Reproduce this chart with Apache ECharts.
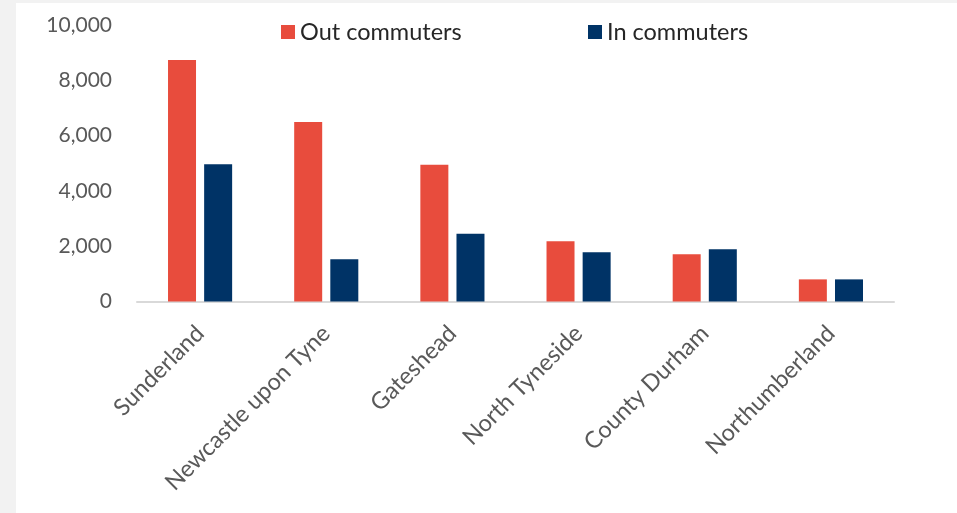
<!DOCTYPE html>
<html>
<head>
<meta charset="utf-8">
<script src="https://cdn.jsdelivr.net/npm/echarts@6/dist/echarts.min.js"></script>
<style>
  html, body { margin: 0; padding: 0; background: #f2f2f2; width: 957px; height: 513px; overflow: hidden; }
  #chart { position: absolute; left: 16px; top: 3px; width: 941px; height: 510px; background: #ffffff; }
</style>
</head>
<body>
<div id="chart"></div>
<script>
// Commuter flows by local authority
const categories = ['Sunderland', 'Newcastle upon Tyne', 'Gateshead', 'North Tyneside', 'County Durham', 'Northumberland'];
const outCommuters = [8730, 6490, 4950, 2180, 1710, 800];
const inCommuters = [4960, 1530, 2450, 1780, 1890, 800];
const yTicks = [0, 2000, 4000, 6000, 8000, 10000];

const FONT = 'Lato, "Open Sans", sans-serif';
const RED = '#E84C3D';
const NAVY = '#003366';

const chart = echarts.init(document.getElementById('chart'));

const legendBase = {
  top: 17,
  padding: 0,
  itemWidth: 14, itemHeight: 14,
  icon: 'rect',
  textStyle: { fontFamily: FONT, fontSize: 23.5, color: '#262626' }
};

chart.setOption({
  backgroundColor: '#ffffff',
  animation: false,
  textStyle: { fontFamily: FONT },
  legend: [
    Object.assign({ data: ['Out commuters'], left: 265 }, legendBase),
    Object.assign({ data: ['In commuters'], left: 572 }, legendBase)
  ],
  grid: { left: 121, right: 63, top: 22, bottom: 211.5, containLabel: false },
  xAxis: {
    type: 'category',
    data: categories,
    axisLine: { lineStyle: { color: '#d9d9d9', width: 2 } },
    axisTick: { show: false },
    axisLabel: {
      rotate: 45,
      interval: 0,
      margin: 28,
      fontFamily: FONT,
      fontSize: 23.5,
      color: '#595959'
    }
  },
  yAxis: {
    type: 'value',
    min: yTicks[0],
    max: yTicks[yTicks.length - 1],
    interval: yTicks[1] - yTicks[0],
    splitLine: { show: false },
    axisLine: { show: false },
    axisTick: { show: false },
    axisLabel: {
      margin: 25,
      fontFamily: FONT,
      fontSize: 21,
      color: '#595959',
      formatter: v => v.toLocaleString('en-GB')
    }
  },
  series: [
    {
      name: 'Out commuters',
      type: 'bar',
      data: outCommuters,
      barWidth: 28,
      barGap: '29%',
      itemStyle: { color: RED }
    },
    {
      name: 'In commuters',
      type: 'bar',
      data: inCommuters,
      barWidth: 28,
      itemStyle: { color: NAVY }
    }
  ]
});
</script>
</body>
</html>
